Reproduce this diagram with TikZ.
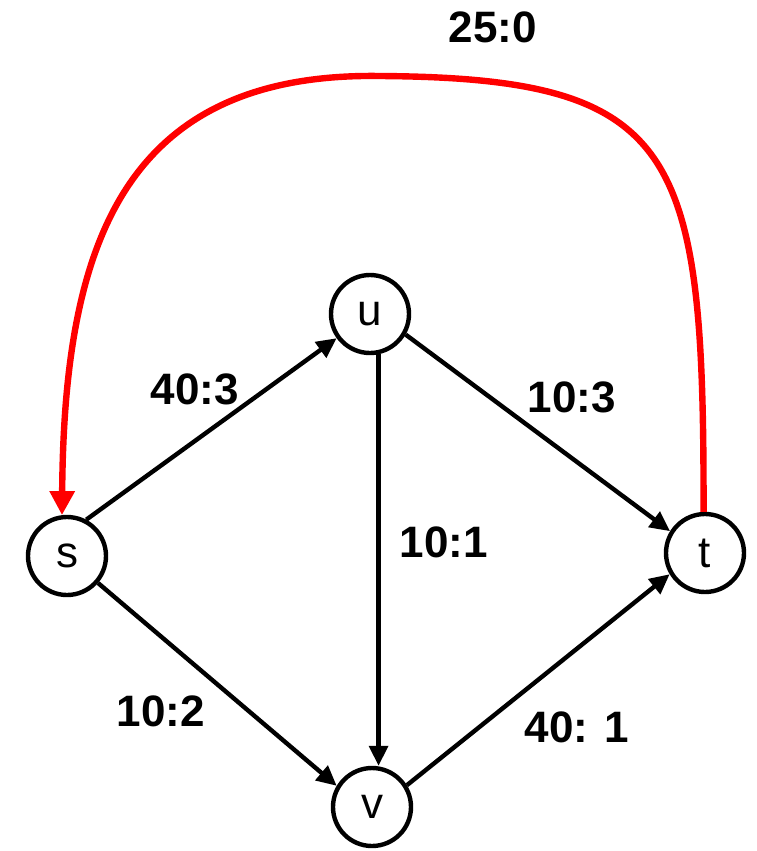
\documentclass[tikz,border=0pt]{standalone}
\usepackage{fontspec}
\setmainfont{Liberation Sans}
\usetikzlibrary{arrows.meta}
\begin{document}
\begin{tikzpicture}[x=0.75pt,y=-0.75pt,
  vertex/.style={circle,draw,line width=3.3pt,minimum size=58.5pt,inner sep=0pt,font=\fontsize{33}{36}\selectfont},
  edge/.style={line width=3.3pt,-{Triangle[length=15pt,width=14pt]}},
  flowedge/.style={line width=4.8pt,red,-{Triangle[length=18pt,width=18pt]}},
  lbl/.style={font=\fontsize{33}{36}\selectfont\bfseries}]
\useasboundingbox (0,0) rectangle (757,851);
\node[vertex] (s) at (67,556) {s};
\node[vertex] (u) at (370,314) {u};
\node[vertex] (t) at (705,553) {t};
\node[vertex] (v) at (372,807) {v};
\draw[edge] (s.62) -- (u.216);
\draw[edge] (s.-41) -- (v.149);
\draw[edge] (u.282) -- (u.282 |- v.north);
\draw[edge] (u.-30) -- (t.148);
\draw[edge] (v.32) -- (t.211);
\draw[flowedge] (t.92) .. controls (704,150) and (680,78) .. (380,76)
  .. controls (120,72) and (64,250) .. (s.97);
\node[lbl] (l1) at (493,27) {25:0};
\node[lbl] (l2) at (195,389) {40:3};
\node[lbl] (l3) at (572,397) {10:3};
\node[lbl] (l4) at (444,542) {10:1};
\node[lbl] (l5) at (161,711) {10:2};
\node[lbl] (l6) at (577,727) {40: 1};
\end{tikzpicture}
\end{document}
